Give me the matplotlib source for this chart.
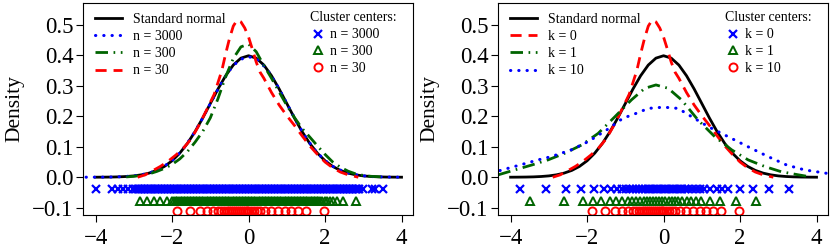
import numpy as np
import matplotlib
matplotlib.use("Agg")
import matplotlib.pyplot as plt
from matplotlib.lines import Line2D

plt.rcParams['font.family'] = ['Liberation Serif', 'DejaVu Serif']

# ---------------- data ----------------
# standard normal density (values listed at step 0.2)
norm_x = [-4.0, -3.8, -3.6, -3.4, -3.2, -3.0, -2.8, -2.6, -2.4, -2.2, -2.0, -1.8, -1.6, -1.4, -1.2,
          -1.0, -0.8, -0.6, -0.4, -0.2, 0.0, 0.2, 0.4, 0.6, 0.8, 1.0, 1.2, 1.4, 1.6, 1.8, 2.0,
          2.2, 2.4, 2.6, 2.8, 3.0, 3.2, 3.4, 3.6, 3.8, 4.0]
norm_y = [0.0001, 0.0003, 0.0006, 0.0012, 0.0024, 0.0044, 0.0079, 0.0136, 0.0224, 0.0355, 0.0540,
          0.0790, 0.1109, 0.1497, 0.1942, 0.2420, 0.2897, 0.3332, 0.3683, 0.3910, 0.3989, 0.3910,
          0.3683, 0.3332, 0.2897, 0.2420, 0.1942, 0.1497, 0.1109, 0.0790, 0.0540, 0.0355, 0.0224,
          0.0136, 0.0079, 0.0044, 0.0024, 0.0012, 0.0006, 0.0003, 0.0001]

# n = 3000 density estimate (blue dotted)
n3000_x = [-4.25, -4.0, -3.75, -3.5, -3.25, -3.0, -2.75, -2.5, -2.25, -2.0, -1.75, -1.5, -1.25, -1.0,
           -0.75, -0.5, -0.25, 0.0, 0.25, 0.5, 0.75, 1.0, 1.25, 1.5, 1.75, 2.0, 2.25, 2.5, 2.75,
           3.0, 3.25, 3.5, 3.75, 3.95]
n3000_y = [0.0001, 0.0002, 0.0004, 0.0009, 0.0021, 0.0046, 0.0093, 0.0178, 0.0320, 0.0545, 0.0868,
           0.1300, 0.1830, 0.2420, 0.3005, 0.3510, 0.3850, 0.3960, 0.3850, 0.3515, 0.3010, 0.2425,
           0.1830, 0.1300, 0.0868, 0.0545, 0.0320, 0.0178, 0.0093, 0.0046, 0.0021, 0.0009, 0.0004,
           0.0002]

# n = 300 density estimate (green dash-dot)
n300_x = [-3.2, -3.0, -2.8, -2.6, -2.4, -2.2, -2.0, -1.8, -1.6, -1.4, -1.2, -1.0, -0.8, -0.6, -0.4,
          -0.2, 0.0, 0.2, 0.4, 0.6, 0.8, 1.0, 1.2, 1.4, 1.6, 1.8, 2.0, 2.2, 2.4, 2.6, 2.8, 3.0,
          3.2, 3.5]
n300_y = [0.001, 0.003, 0.006, 0.011, 0.019, 0.029, 0.042, 0.060, 0.084, 0.115, 0.150, 0.195,
          0.258, 0.330, 0.390, 0.428, 0.437, 0.412, 0.367, 0.325, 0.280, 0.236, 0.196, 0.160,
          0.132, 0.103, 0.075, 0.050, 0.033, 0.020, 0.011, 0.006, 0.003, 0.001]

# n = 30 / k = 0 density estimate (red dashed)
n30_x = [-2.9, -2.7, -2.5, -2.3, -2.1, -1.9, -1.7, -1.5, -1.3, -1.1, -0.9, -0.7, -0.6, -0.5, -0.4,
         -0.3, -0.2, -0.1, 0.0, 0.1, 0.2, 0.3, 0.4, 0.6, 0.8, 1.0, 1.2, 1.4, 1.6, 1.8, 2.0, 2.2,
         2.4, 2.6, 2.87]
n30_y = [0.000, 0.008, 0.022, 0.036, 0.053, 0.073, 0.096, 0.126, 0.170, 0.220, 0.272, 0.350,
         0.405, 0.455, 0.496, 0.516, 0.510, 0.490, 0.460, 0.420, 0.378, 0.345, 0.325, 0.278,
         0.237, 0.202, 0.170, 0.136, 0.103, 0.075, 0.050, 0.031, 0.017, 0.008, 0.000]

# k = 1 density estimate (green dash-dot, right panel)
k1_x = [-4.32, -3.89, -3.45, -3.02, -2.58, -2.14, -1.71, -1.27, -0.84, -0.49, -0.2, 0.12, 0.47,
        0.9, 1.34, 1.78, 2.21, 2.65, 3.08, 3.52, 3.8]
k1_y = [0.008, 0.024, 0.040, 0.057, 0.079, 0.106, 0.144, 0.199, 0.254, 0.292, 0.303, 0.292,
        0.254, 0.188, 0.133, 0.090, 0.057, 0.035, 0.018, 0.008, 0.002]

# k = 10 density estimate (blue dotted, right panel)
k10_x = [-4.28, -3.76, -3.28, -2.93, -2.41, -1.97, -1.49, -1.06, -0.79, -0.4, 0.0, 0.38, 0.73,
         1.17, 1.69, 2.21, 2.73, 3.22, 3.69, 4.26]
k10_y = [0.022, 0.040, 0.057, 0.068, 0.090, 0.117, 0.155, 0.194, 0.206, 0.226, 0.230, 0.226,
         0.199, 0.166, 0.133, 0.100, 0.068, 0.040, 0.024, 0.013]

# cluster centers, left panel
c3000 = [-3.98, -3.57, -3.42, -3.29, -3.16, -3.02,
         -2.94, -2.90, -2.86, -2.82, -2.78, -2.74, -2.70, -2.66, -2.62, -2.58, -2.54, -2.50, -2.46,
         -2.42, -2.38, -2.34, -2.30, -2.26, -2.22, -2.18, -2.14, -2.10, -2.06, -2.02, -1.98, -1.94,
         -1.90, -1.86, -1.82, -1.78, -1.74, -1.70, -1.66, -1.62, -1.58, -1.54, -1.50, -1.46, -1.42,
         -1.38, -1.34, -1.30, -1.26, -1.22, -1.18, -1.14, -1.10, -1.06, -1.02, -0.98, -0.94, -0.90,
         -0.86, -0.82, -0.78, -0.74, -0.70, -0.66, -0.62, -0.58, -0.54, -0.50, -0.46, -0.42, -0.38,
         -0.34, -0.30, -0.26, -0.22, -0.18, -0.14, -0.10, -0.06, -0.02, 0.02, 0.06, 0.10, 0.14,
         0.18, 0.22, 0.26, 0.30, 0.34, 0.38, 0.42, 0.46, 0.50, 0.54, 0.58, 0.62, 0.66, 0.70, 0.74,
         0.78, 0.82, 0.86, 0.90, 0.94, 0.98, 1.02, 1.06, 1.10, 1.14, 1.18, 1.22, 1.26, 1.30, 1.34,
         1.38, 1.42, 1.46, 1.50, 1.54, 1.58, 1.62, 1.66, 1.70, 1.74, 1.78, 1.82, 1.86, 1.90, 1.94,
         1.98, 2.02, 2.06, 2.10, 2.14, 2.18, 2.22, 2.26, 2.30, 2.34, 2.38, 2.42, 2.46, 2.50, 2.54,
         2.58, 2.62, 2.66, 2.70, 2.74, 2.78, 2.82, 2.86, 2.90,
         3.00, 3.22, 3.31, 3.52]
c300 = [-2.83, -2.66, -2.48, -2.31, -2.14, -2.01,
        -1.94, -1.90, -1.86, -1.82, -1.78, -1.74, -1.70, -1.66, -1.62, -1.58, -1.54, -1.50, -1.46,
        -1.42, -1.38, -1.34, -1.30, -1.26, -1.22, -1.18, -1.14, -1.10, -1.06, -1.02, -0.98, -0.94,
        -0.90, -0.86, -0.82, -0.78, -0.74, -0.70, -0.66, -0.62, -0.58, -0.54, -0.50, -0.46, -0.42,
        -0.38, -0.34, -0.30, -0.26, -0.22, -0.18, -0.14, -0.10, -0.06, -0.02, 0.02, 0.06, 0.10,
        0.14, 0.18, 0.22, 0.26, 0.30, 0.34, 0.38, 0.42, 0.46, 0.50, 0.54, 0.58, 0.62, 0.66, 0.70,
        0.74, 0.78, 0.82, 0.86, 0.90, 0.94, 0.98, 1.02, 1.06, 1.10, 1.14, 1.18, 1.22, 1.26, 1.30,
        1.34, 1.38, 1.42, 1.46, 1.50, 1.54, 1.58, 1.62, 1.66, 1.70, 1.74, 1.78, 1.82, 1.86,
        1.92, 1.99, 2.06, 2.13, 2.20, 2.30, 2.47, 2.80]
c30 = [-1.87, -1.54, -1.27, -1.10, -0.93, -0.80, -0.72, -0.64,
       -0.56, -0.51, -0.46, -0.41, -0.35, -0.30, -0.25, -0.20, -0.15, -0.10, -0.05,
       -0.01, 0.07, 0.15, 0.23, 0.30, 0.43, 0.58, 0.77, 0.95, 1.12, 1.30, 1.50, 1.97]

# cluster centers, right panel
ck0 = [-3.76, -3.07, -2.56, -2.15, -1.83, -1.56, -1.37, -1.22, -1.09, -0.98, -0.88, -0.79, -0.71,
       -0.63, -0.56, -0.49, -0.42, -0.35, -0.28, -0.21, -0.14, -0.07, 0.0, 0.07, 0.14, 0.21, 0.28,
       0.35, 0.42, 0.49, 0.57, 0.65, 0.74, 0.84, 0.95, 1.07, 1.22, 1.39, 1.52, 1.69, 1.99, 2.33,
       2.76, 3.28]
ck1 = [-3.49, -2.60, -2.12, -1.85, -1.63, -1.41, -1.24, -1.08, -0.94, -0.82, -0.71, -0.61, -0.52,
       -0.43, -0.35, -0.27, -0.19, -0.11, -0.03, 0.05, 0.13, 0.21, 0.30, 0.39, 0.49, 0.60, 0.72,
       0.85, 0.99, 1.21, 1.47, 1.90, 2.41]
ck10 = c30

x_ticks = [-4, -2, 0, 2, 4]
y_ticks = [-0.1, 0.0, 0.1, 0.2, 0.3, 0.4, 0.5]
rug_y = [-0.040, -0.078, -0.110]

BLUE = '#0000FF'
GREEN = '#006400'
RED = '#FF0000'

# ---------------- figure ----------------
fig = plt.figure(figsize=(8.30, 2.49), dpi=100)
W, H = 830, 249
axL = fig.add_axes([83 / W, 1 - 215 / H, 330 / W, 212 / H])
axR = fig.add_axes([498 / W, 1 - 215 / H, 330 / W, 212 / H])

dash_style = dict(ls=(0, (4, 2.5)))
dashdot_style = dict(ls=(0, (4.5, 2.0, 0.6, 2.0)))
dot_style = dict(ls=(0, (0.1, 2.6)), dash_capstyle='round')


def style_axes(ax):
    ax.set_xlim(-4.33, 4.30)
    ax.set_ylim(-0.124, 0.572)
    ax.set_xticks(x_ticks)
    ax.set_yticks(y_ticks)
    ax.set_xticklabels([f"{v:d}".replace('-', '\u2212') for v in x_ticks])
    ax.set_yticklabels([f"{v:.1f}".replace('-', '\u2212') for v in y_ticks])
    ax.tick_params(axis='both', length=5, width=0.8, labelsize=16.5, direction='out')
    ax.tick_params(axis='x', pad=4)
    ax.tick_params(axis='y', pad=2)
    for s in ax.spines.values():
        s.set_linewidth(0.8)


def rugs(ax, xs, ys, zs):
    ax.plot(xs, [rug_y[0]] * len(xs), ls='none', marker='x', ms=5.8, mew=1.6, color=BLUE)
    ax.plot(ys, [rug_y[1]] * len(ys), ls='none', marker='^', ms=6.2, mew=1.4, mfc='none', color=GREEN)
    ax.plot(zs, [rug_y[2]] * len(zs), ls='none', marker='o', ms=5.8, mew=1.4, mfc='none', color=RED)


def marker_legend(ax, labels):
    handles = [Line2D([], [], ls='none', marker='x', ms=5.8, mew=1.6, color=BLUE),
               Line2D([], [], ls='none', marker='^', ms=6.2, mew=1.4, mfc='none', color=GREEN),
               Line2D([], [], ls='none', marker='o', ms=5.8, mew=1.4, mfc='none', color=RED)]
    leg = ax.legend(handles, labels, title='Cluster centers:', loc='upper left',
                    bbox_to_anchor=(227 / 330, 1 - 8.5 / 212), frameon=False, fontsize=10,
                    title_fontsize=10, handlelength=1.1, handletextpad=0.35, labelspacing=0.28,
                    borderpad=0, borderaxespad=0, alignment='left')
    return leg


def line_legend(ax, handles, labels):
    return ax.legend(handles, labels, loc='upper left',
                     bbox_to_anchor=(12 / 330, 1 - 10 / 212), frameon=False, fontsize=10,
                     handlelength=1.95, handletextpad=0.8, labelspacing=0.3, borderpad=0,
                     borderaxespad=0)


# ---- left panel ----
ax = axL
ax.plot(norm_x, norm_y, color='black', lw=2.0)
ax.plot(n3000_x, n3000_y, color=BLUE, lw=2.2, **dot_style)
ax.plot(n300_x, n300_y, color=GREEN, lw=2.0, **dashdot_style)
ax.plot(n30_x, n30_y, color=RED, lw=2.0, **dash_style)
rugs(ax, c3000, c300, c30)
style_axes(ax)
h1 = [Line2D([], [], color='black', lw=2.0),
      Line2D([], [], color=BLUE, lw=2.2, **dot_style),
      Line2D([], [], color=GREEN, lw=2.0, **dashdot_style),
      Line2D([], [], color=RED, lw=2.0, **dash_style)]
ax.add_artist(line_legend(ax, h1, ['Standard normal', 'n = 3000', 'n = 300', 'n = 30']))
marker_legend(ax, ['n = 3000', 'n = 300', 'n = 30'])

# ---- right panel ----
ax = axR
ax.plot(norm_x, norm_y, color='black', lw=2.0)
ax.plot(n30_x, n30_y, color=RED, lw=2.0, **dash_style)
ax.plot(k1_x, k1_y, color=GREEN, lw=2.0, **dashdot_style)
ax.plot(k10_x, k10_y, color=BLUE, lw=2.2, **dot_style)
rugs(ax, ck0, ck1, ck10)
style_axes(ax)
h2 = [Line2D([], [], color='black', lw=2.0),
      Line2D([], [], color=RED, lw=2.0, **dash_style),
      Line2D([], [], color=GREEN, lw=2.0, **dashdot_style),
      Line2D([], [], color=BLUE, lw=2.2, **dot_style)]
ax.add_artist(line_legend(ax, h2, ['Standard normal', 'k = 0', 'k = 1', 'k = 10']))
marker_legend(ax, ['k = 0', 'k = 1', 'k = 10'])

fig.text(15 / W, 1 - 109 / H, 'Density', rotation=90, ha='center', va='center', fontsize=15.5)
fig.text(430 / W, 1 - 109 / H, 'Density', rotation=90, ha='center', va='center', fontsize=15.5)

fig.savefig('out.png', dpi=100)
